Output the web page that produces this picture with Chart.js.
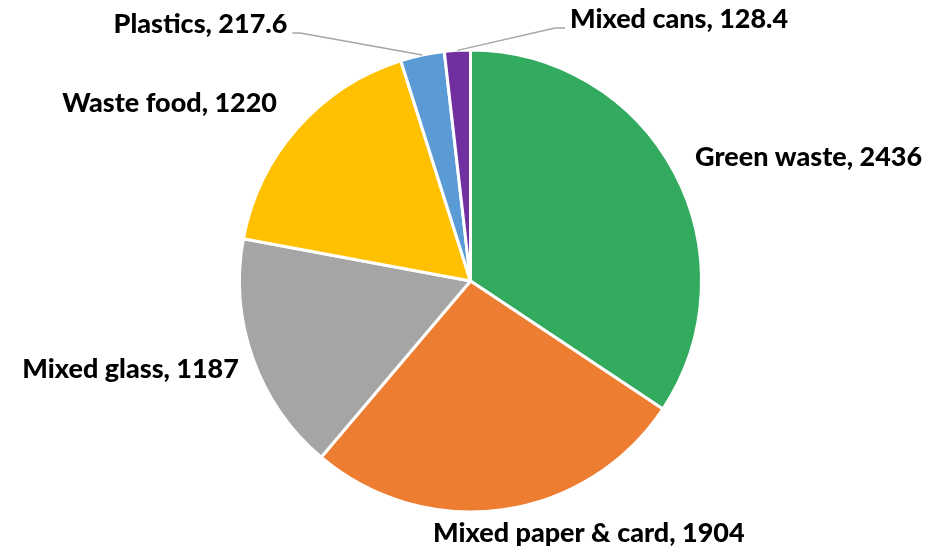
<!DOCTYPE html>
<html>
<head>
<meta charset="utf-8">
<script src="https://cdn.jsdelivr.net/npm/chart.js@4/dist/chart.umd.min.js"></script>
<style>
html,body{margin:0;padding:0;background:#fff;}
#wrap{width:929px;height:547px;position:relative;}
</style>
</head>
<body>
<div id="wrap"><canvas id="c" width="929" height="547"></canvas></div>
<script>
const categories = ["Green waste", "Mixed paper & card", "Mixed glass", "Waste food", "Plastics", "Mixed cans"];
const values = [2436, 1904, 1187, 1220, 217.6, 128.4];
const valueLabels = ["2436", "1904", "1187", "1220", "217.6", "128.4"];
const colors = ["#33AB5F", "#ED7D31", "#A5A5A5", "#FFC000", "#5B9BD5", "#7030A0"];

// label placement relative to each slice's outer mid-point (styling only)
const labelLayout = [
  {dx: 21, dy: -6, align: "left"},
  {dx: 86, dy: 32, align: "center"},
  {dx: -14, dy: 19.5, align: "right"},
  {dx: -20.5, dy: -16, align: "right"},
  {dx: -135, dy: -22, align: "right", leader: [[-122, -22], [-130, -22]]},
  {dx: 112.6, dy: -22.4, align: "left", leader: [[97.6, -22.4], [107.6, -22.4]]}
];

const FONT_FAMILY = "Lato, 'Open Sans', sans-serif";

const labelPlugin = {
  id: "sliceLabels",
  afterDatasetsDraw(chart) {
    const ctx = chart.ctx;
    const meta = chart.getDatasetMeta(0);
    ctx.save();
    ctx.font = "900 100px " + FONT_FAMILY;
    const w100 = ctx.measureText("Green waste, 2436").width;
    const size = 100 * 227 / w100;
    ctx.font = "900 " + size.toFixed(2) + "px " + FONT_FAMILY;
    ctx.fillStyle = "#000";
    ctx.textBaseline = "alphabetic";
    meta.data.forEach((arc, i) => {
      const p = arc.getProps(["x", "y", "startAngle", "endAngle", "outerRadius"], true);
      const mid = (p.startAngle + p.endAngle) / 2;
      const ax = p.x + Math.cos(mid) * p.outerRadius;
      const ay = p.y + Math.sin(mid) * p.outerRadius;
      const L = labelLayout[i];
      if (L.leader) {
        ctx.beginPath();
        ctx.strokeStyle = "#A6A6A6";
        ctx.lineWidth = 1.5;
        ctx.moveTo(ax, ay);
        L.leader.forEach(pt => ctx.lineTo(ax + pt[0], ay + pt[1]));
        ctx.stroke();
      }
      ctx.textAlign = L.align;
      ctx.fillText(categories[i] + ", " + valueLabels[i], ax + L.dx, ay + L.dy);
    });
    ctx.restore();
  }
};

new Chart(document.getElementById("c"), {
  type: "pie",
  data: {
    labels: categories,
    datasets: [{
      data: values,
      backgroundColor: colors,
      borderColor: "#FFFFFF",
      borderWidth: 3,
      hoverOffset: 0
    }]
  },
  options: {
    responsive: false,
    animation: false,
    layout: {padding: {top: 48.5, bottom: 33.5, left: 238, right: 226}},
    plugins: {legend: {display: false}, tooltip: {enabled: false}}
  },
  plugins: [labelPlugin]
});
</script>
</body>
</html>
